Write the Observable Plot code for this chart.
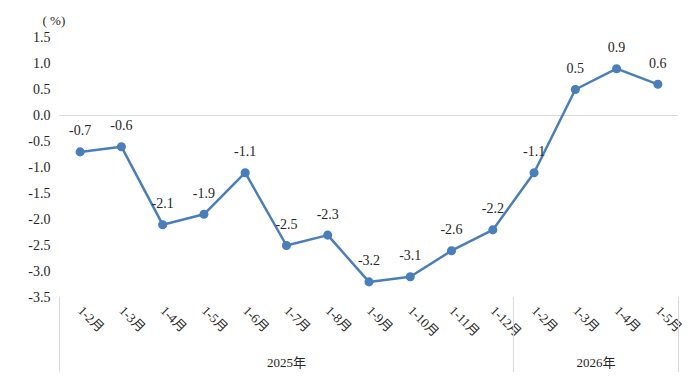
<!DOCTYPE html>
<html>
<head>
<meta charset="utf-8">
<script src="https://cdn.jsdelivr.net/npm/d3@7"></script>
<script src="https://cdn.jsdelivr.net/npm/@observablehq/plot@0.6"></script>
<style>
  html, body { margin: 0; padding: 0; background: #fff; }
  #chart svg { display: block; }
</style>
</head>
<body>
<div id="chart"></div>
<script>
// ---- data ----
const months = ["1-2月","1-3月","1-4月","1-5月","1-6月","1-7月","1-8月","1-9月","1-10月","1-11月","1-12月","1-2月","1-3月","1-4月","1-5月"];
const values = [-0.7, -0.6, -2.1, -1.9, -1.1, -2.5, -2.3, -3.2, -3.1, -2.6, -2.2, -1.1, 0.5, 0.9, 0.6];
const years = ["2025年", "2026年"];
const yearCounts = [11, 4];
const yTicks = [1.5, 1.0, 0.5, 0.0, -0.5, -1.0, -1.5, -2.0, -2.5, -3.0, -3.5];
const unitLabel = "( %)";

// ---- derived table ----
const data = months.map((m, i) => ({i, month: m, value: values[i]}));
let start = -0.5;
const groups = years.map((y, k) => {
  const g = {year: y, x0: start, x1: start + yearCounts[k]};
  start = g.x1;
  return g;
});
const seps = [groups[0].x0, ...groups.map(g => g.x1)];

const W = 696, H = 384;
const mTop = 37, mBottom = 87, mLeft = 59, mRight = 18;
const serif = "'Liberation Serif', 'Times New Roman', serif";
const cjk = "'Liberation Serif', 'Noto Sans CJK SC', serif";
const blue = "#4a7ebb";
const ink = "#262626";

const chart = Plot.plot({
  width: W,
  height: H,
  marginTop: mTop,
  marginBottom: mBottom,
  marginLeft: mLeft,
  marginRight: mRight,
  style: {fontFamily: serif, color: ink, background: "#fff"},
  x: {type: "linear", domain: [-0.5, months.length - 0.5], axis: null},
  y: {domain: [d3.min(yTicks), d3.max(yTicks)], axis: null},
  marks: [
    Plot.ruleY([0], {stroke: "#d9d9d9", strokeWidth: 1}),
    Plot.axisY({
      ticks: yTicks,
      tickFormat: d => d.toFixed(1),
      tickSize: 0,
      tickPadding: 9,
      fontSize: 14,
      fontFamily: serif,
      fill: ink,
      label: null
    }),
    Plot.text([unitLabel], {
      frameAnchor: "top-left",
      dx: -17,
      dy: -22,
      fontSize: 13,
      fontFamily: serif,
      fill: ink
    }),
    Plot.axisX({
      ticks: d3.range(months.length),
      tickFormat: i => months[i],
      tickRotate: 45,
      tickSize: 0,
      tickPadding: 11,
      fontSize: 13,
      fontFamily: cjk,
      fill: ink,
      label: null
    }),
    Plot.ruleX(seps, {
      x: d => d,
      stroke: "#d9d9d9",
      strokeWidth: 1,
      insetTop: H - mTop - mBottom,
      insetBottom: -75
    }),
    Plot.text(groups, {
      x: g => (g.x0 + g.x1) / 2,
      text: "year",
      frameAnchor: "bottom",
      dy: 69,
      fontSize: 13,
      fontFamily: cjk,
      fill: ink
    }),
    Plot.line(data, {x: "i", y: "value", stroke: blue, strokeWidth: 2.5}),
    Plot.dot(data, {x: "i", y: "value", r: 3.8, fill: blue, stroke: blue}),
    Plot.text(data, {
      x: "i",
      y: "value",
      text: d => d.value.toFixed(1),
      dy: -21,
      fontSize: 14,
      fontFamily: serif,
      fill: ink
    })
  ]
});
document.getElementById("chart").appendChild(chart);
</script>
</body>
</html>
